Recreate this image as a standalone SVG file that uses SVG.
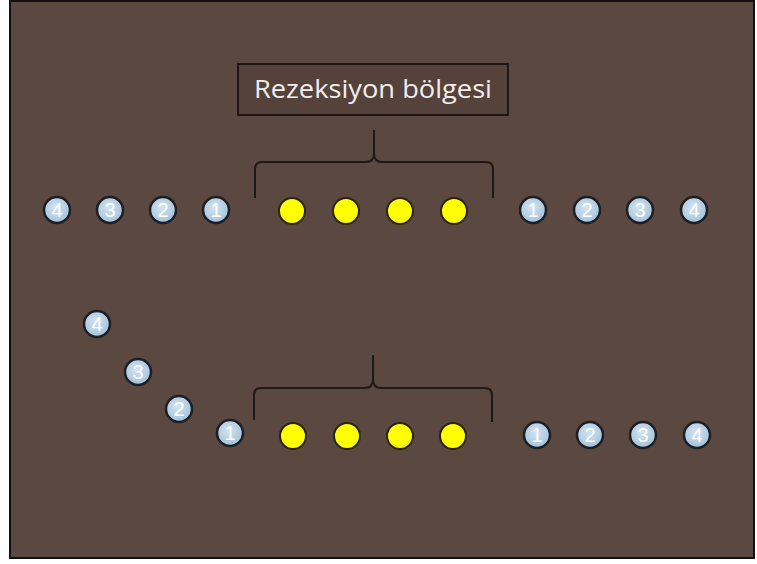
<svg xmlns="http://www.w3.org/2000/svg" width="757" height="564" viewBox="0 0 757 564">
<defs>
<radialGradient id="bg" cx="0.45" cy="0.4" r="0.65">
<stop offset="0" stop-color="#d4e4f0"/>
<stop offset="1" stop-color="#9fbfda"/>
</radialGradient>
<style>
.blue circle{fill:url(#bg);stroke:#1c1f24;stroke-width:2.5}
.blue text{font-family:"Liberation Sans",Arial,sans-serif;font-size:20px;fill:#ffffff;text-anchor:middle}
.yel{fill:#ffff00;stroke:#2a2414;stroke-width:2}
.brace{fill:none;stroke:#1e1a17;stroke-width:2}
</style>
</defs>
<rect x="0" y="0" width="757" height="564" fill="#ffffff"/>
<rect x="10" y="1" width="744" height="557" fill="#5b4840" stroke="#111" stroke-width="2"/>
<g id="title">
<rect x="238" y="64" width="270" height="51" fill="#55433b" stroke="#1d1815" stroke-width="2"/>
<text x="373" y="98" font-family="'Open Sans','Liberation Sans',sans-serif" font-size="26" fill="#f2eeee" text-anchor="middle" textLength="238" lengthAdjust="spacingAndGlyphs">Rezeksiyon bölgesi</text>
</g>
<g id="connectors">
<path class="brace" d="M255,198 V169 Q255,162 262,162 H366 Q374,162 374,153 V130 M374,153 Q374,162 382,162 H486 Q493,162 493,169 V198"/>
<path class="brace" d="M254,420 V395 Q254,388 261,388 H365 Q373,388 373,379 V355 M373,379 Q373,388 381,388 H485 Q492,388 492,395 V422"/>
</g>
<g id="top-left" class="blue">
<g id="tl4"><circle cx="57" cy="210" r="13"/><text x="57" y="217">4</text></g>
<g id="tl3"><circle cx="110" cy="210" r="13"/><text x="110" y="217">3</text></g>
<g id="tl2"><circle cx="163" cy="210" r="13"/><text x="163" y="217">2</text></g>
<g id="tl1"><circle cx="216" cy="210" r="13"/><text x="216" y="217">1</text></g>
</g>
<g id="top-yellow">
<circle class="yel" cx="292" cy="211" r="13"/>
<circle class="yel" cx="346" cy="211" r="13"/>
<circle class="yel" cx="400" cy="211" r="13"/>
<circle class="yel" cx="454" cy="211" r="13"/>
</g>
<g id="top-right" class="blue">
<g id="tr1"><circle cx="533" cy="210" r="13"/><text x="533" y="217">1</text></g>
<g id="tr2"><circle cx="587" cy="210" r="13"/><text x="587" y="217">2</text></g>
<g id="tr3"><circle cx="640" cy="210" r="13"/><text x="640" y="217">3</text></g>
<g id="tr4"><circle cx="694" cy="210" r="13"/><text x="694" y="217">4</text></g>
</g>
<g id="bottom-left" class="blue">
<g id="bl4"><circle cx="97" cy="324" r="13"/><text x="97" y="331">4</text></g>
<g id="bl3"><circle cx="138" cy="372" r="13"/><text x="138" y="379">3</text></g>
<g id="bl2"><circle cx="179" cy="409" r="13"/><text x="179" y="416">2</text></g>
<g id="bl1"><circle cx="230" cy="433" r="13"/><text x="230" y="440">1</text></g>
</g>
<g id="bottom-yellow">
<circle class="yel" cx="293" cy="436" r="13"/>
<circle class="yel" cx="347" cy="436" r="13"/>
<circle class="yel" cx="400" cy="436" r="13"/>
<circle class="yel" cx="453" cy="436" r="13"/>
</g>
<g id="bottom-right" class="blue">
<g id="br1"><circle cx="537" cy="435" r="13"/><text x="537" y="442">1</text></g>
<g id="br2"><circle cx="590" cy="435" r="13"/><text x="590" y="442">2</text></g>
<g id="br3"><circle cx="643" cy="435" r="13"/><text x="643" y="442">3</text></g>
<g id="br4"><circle cx="697" cy="435" r="13"/><text x="697" y="442">4</text></g>
</g>
</svg>
